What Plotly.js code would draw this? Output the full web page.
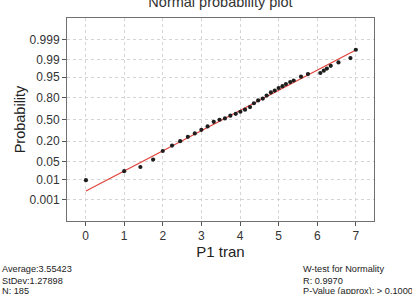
<!DOCTYPE html>
<html>
<head>
<meta charset="utf-8">
<script src="https://cdn.plot.ly/plotly-3.0.1.min.js"></script>
<style>
  html, body { margin: 0; padding: 0; background: #fff; }
  #chart { width: 412px; height: 294px; }
</style>
</head>
<body>
<div id="chart"></div>
<script>
// Sorted observations of "P1 tran" and their normal scores (z)
const p1Tran = [0.01, 1.00, 1.42, 1.75, 2.00, 2.24, 2.45, 2.65, 2.83, 3.00, 3.16, 3.32, 3.47,
  3.61, 3.75, 3.89, 4.01, 4.13, 4.26, 4.36, 4.47, 4.59, 4.69, 4.80, 4.90, 5.00, 5.10,
  5.19, 5.30, 5.39, 5.58, 5.76, 6.08, 6.17, 6.25, 6.35, 6.55, 6.86, 7.00];
const normalScore = [-2.35, -2.00, -1.84, -1.55, -1.22, -1.01, -0.84, -0.67, -0.54, -0.40, -0.27, -0.09, -0.01,
  0.04, 0.15, 0.22, 0.30, 0.38, 0.48, 0.63, 0.74, 0.81, 0.93, 1.05, 1.12, 1.22, 1.29,
  1.37, 1.45, 1.51, 1.66, 1.76, 1.80, 1.89, 1.97, 2.08, 2.21, 2.38, 2.70];

// Summary statistics
const average = 3.55423;
const stDev = 1.27898;
const nObs = 185;
const wTestR = 0.9970;

// Probability axis ticks
const probTicks = [0.001, 0.01, 0.05, 0.20, 0.50, 0.80, 0.95, 0.99, 0.999];
const probLabels = ["0.001", "0.01", "0.05", "0.20", "0.50", "0.80", "0.95", "0.99", "0.999"];
const xTicks = [0, 1, 2, 3, 4, 5, 6, 7];

// Inverse standard normal CDF (Acklam's rational approximation)
function qnorm(p) {
  const a = [-3.969683028665376e+01, 2.209460984245205e+02, -2.759285104469687e+02,
             1.383577518672690e+02, -3.066479806614716e+01, 2.506628277459239e+00];
  const b = [-5.447609879822406e+01, 1.615858368580409e+02, -1.556989798598866e+02,
             6.680131188771972e+01, -1.328068155288572e+01];
  const c = [-7.784894002430293e-03, -3.223964580411365e-01, -2.400758277161838e+00,
             -2.549732539343734e+00, 4.374664141464968e+00, 2.938163982698783e+00];
  const d = [7.784695709041462e-03, 3.224671290700398e-01, 2.445134137142996e+00,
             3.754408661907416e+00];
  const pl = 0.02425, ph = 1 - pl;
  let q, r;
  if (p < pl) {
    q = Math.sqrt(-2 * Math.log(p));
    return (((((c[0]*q+c[1])*q+c[2])*q+c[3])*q+c[4])*q+c[5]) / ((((d[0]*q+d[1])*q+d[2])*q+d[3])*q+1);
  } else if (p <= ph) {
    q = p - 0.5; r = q * q;
    return (((((a[0]*r+a[1])*r+a[2])*r+a[3])*r+a[4])*r+a[5])*q / (((((b[0]*r+b[1])*r+b[2])*r+b[3])*r+b[4])*r+1);
  } else {
    q = Math.sqrt(-2 * Math.log(1 - p));
    return -(((((c[0]*q+c[1])*q+c[2])*q+c[3])*q+c[4])*q+c[5]) / ((((d[0]*q+d[1])*q+d[2])*q+d[3])*q+1);
  }
}

// Fitted normal line over the data range
const xMin = Math.min(...p1Tran), xMax = Math.max(...p1Tran);
const fitX = [xMin, xMax];
const fitZ = fitX.map(v => (v - average) / stDev);

const W = 412, H = 294;
const M = { l: 67, r: 38, t: 18, b: 73 };
const pw = W - M.l - M.r, ph = H - M.t - M.b;
const px2paper = x => (x - M.l) / pw;
const py2paper = y => (H - M.b - y) / ph;

const font = "Liberation Sans, Arial, Helvetica, sans-serif";

const traces = [
  {
    x: fitX, y: fitZ, type: "scatter", mode: "lines",
    line: { color: "#e2413a", width: 1.2 }, hoverinfo: "skip"
  },
  {
    x: p1Tran, y: normalScore, type: "scatter", mode: "markers",
    marker: { color: "#1e1e1e", size: 4.2 }
  }
];

function note(text, x, y) {
  return {
    text: text, xref: "paper", yref: "paper",
    x: px2paper(x), y: py2paper(y), xanchor: "left", yanchor: "middle",
    showarrow: false, font: { family: font, size: 9.2, color: "#222" }
  };
}

const layout = {
  width: W, height: H,
  margin: M,
  paper_bgcolor: "#fff", plot_bgcolor: "#fff",
  showlegend: false,
  font: { family: font, color: "#333" },
  title: {
    text: "Normal probability plot",
    font: { family: font, size: 14.5, color: "#333" },
    xref: "paper", x: 0.5, xanchor: "center",
    yref: "container", y: 1 - 2 / H, yanchor: "middle"
  },
  xaxis: {
    range: [-0.48, 7.47], tickvals: xTicks, ticktext: xTicks.map(String),
    showgrid: true, gridcolor: "#d4d4d4", gridwidth: 1, griddash: "3px,3px",
    zeroline: false, showline: true, mirror: true, linecolor: "#707070", linewidth: 1,
    ticks: "outside", ticklen: 4, tickcolor: "#555", tickwidth: 1,
    tickfont: { family: font, size: 12, color: "#333" },
    title: { text: "P1 tran", font: { family: font, size: 15, color: "#222" }, standoff: 4 }
  },
  yaxis: {
    range: [-3.93, 3.93],
    tickvals: probTicks.map(qnorm), ticktext: probLabels,
    showgrid: true, gridcolor: "#d4d4d4", gridwidth: 1, griddash: "3px,3px",
    zeroline: false, showline: true, mirror: true, linecolor: "#707070", linewidth: 1,
    ticks: "outside", ticklen: 4, tickcolor: "#555", tickwidth: 1,
    tickfont: { family: font, size: 12, color: "#333" },
    title: { text: "Probability", font: { family: font, size: 14.5, color: "#222" }, standoff: 0 }
  },
  annotations: [
    note("Average:" + average.toFixed(5), 0, 269),
    note("StDev:" + stDev.toFixed(5), 0, 280.5),
    note("N: " + nObs, 0, 290.5),
    note("W-test for Normality", 301, 269),
    note("R: " + wTestR.toFixed(4), 301, 280.5),
    note("P-Value (approx): &gt; 0.1000", 301, 290.5)
  ]
};

Plotly.newPlot("chart", traces, layout, { staticPlot: true, displayModeBar: false });
</script>
</body>
</html>
